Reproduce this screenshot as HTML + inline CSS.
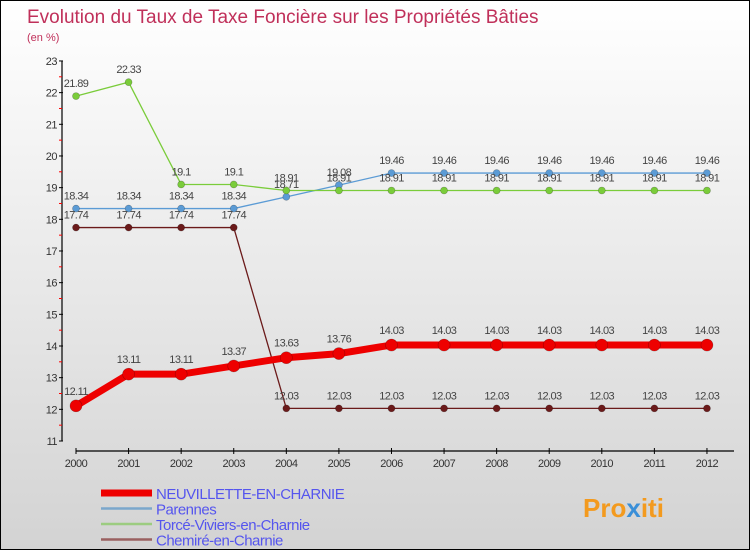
<!DOCTYPE html>
<html><head><meta charset="utf-8"><style>
body{margin:0}
#c{width:750px;height:550px;position:relative;overflow:hidden;box-sizing:border-box;border:1px solid #000;background:linear-gradient(#ffffff,#d3d3d3);font-family:"Liberation Sans",sans-serif}
text{font-family:"Liberation Sans",sans-serif}
</style></head><body>
<div id="c">
<svg id="s" width="750" height="550">
<text x="26" y="22" font-size="19" fill="#c0305a">Evolution du Taux de Taxe Foncière sur les Propriétés Bâties</text>
<text x="26" y="40" font-size="11" fill="#c0305a">(en %)</text>
<g id="axes"></g><g id="series"></g><g id="legend"></g>
<text x="582" y="516" font-size="26" font-weight="bold" fill="#f39a1e">Pro<tspan fill="#3a8fd8">x</tspan>iti</text>
</svg>
</div>
<script>
const years=[2000,2001,2002,2003,2004,2005,2006,2007,2008,2009,2010,2011,2012];
const neuv=[12.11,13.11,13.11,13.37,13.63,13.76,14.03,14.03,14.03,14.03,14.03,14.03,14.03];
const neuvLbl=["12.11","13.11","13.11","13.37","13.63","13.76","14.03","14.03","14.03","14.03","14.03","14.03","14.03"];
const paren=[18.34,18.34,18.34,18.34,18.71,19.08,19.46,19.46,19.46,19.46,19.46,19.46,19.46];
const torce=[21.89,22.33,19.1,19.1,18.91,18.91,18.91,18.91,18.91,18.91,18.91,18.91,18.91];
const chem=[17.74,17.74,17.74,17.74,12.03,12.03,12.03,12.03,12.03,12.03,12.03,12.03,12.03];
const yTicks=[11,12,13,14,15,16,17,18,19,20,21,22,23];
const NS="http://www.w3.org/2000/svg";
const X=i=>75+i*52.58;
const Y=v=>440-(v-11)*31.67;
function mk(tag,at,parent){const e=document.createElementNS(NS,tag);for(const k in at)e.setAttribute(k,at[k]);parent.appendChild(e);return e;}
const ax=document.getElementById('axes'),sg=document.getElementById('series'),lg=document.getElementById('legend');
let a=mk('line',{x1:61,y1:60,x2:61,y2:440,stroke:'#000','stroke-width':1.2},ax);


yTicks.forEach(v=>{
 const t=mk('line',{x1:58,x2:62,y1:Y(v),y2:Y(v),stroke:'#000'},ax);
 
 
 if(v<23){const m=mk('line',{x1:58,x2:61,y1:Y(v+0.5),y2:Y(v+0.5),stroke:'#f00'},ax);
 
 }
 const l=mk('text',{x:56,y:Y(v)+4,'font-size':11,fill:'#333','text-anchor':'end','letter-spacing':'-0.5'},ax);
 l.textContent=v;
 
 
});
a=mk('line',{x1:75,y1:450,x2:733,y2:450,stroke:'#000','stroke-width':1.2},ax);


years.forEach((y,i)=>{
 const t=mk('line',{x1:X(i),x2:X(i),y1:447,y2:453,stroke:'#000'},ax);
 
 
 const l=mk('text',{x:X(i),y:466,'font-size':11,fill:'#333','text-anchor':'middle','letter-spacing':'-0.5'},ax);
 l.textContent=y;
 
 
});
function series(vals,lbls,color,w,r,name,dy){
 const p=mk('polyline',{points:vals.map((v,i)=>X(i)+','+Y(v)).join(' '),fill:'none',stroke:color,'stroke-width':w},sg);
 
 
 vals.forEach((v,i)=>{
  const c=mk('circle',{cx:X(i),cy:Y(v),r:r,fill:color,stroke:'rgba(0,0,0,0.3)','stroke-width':0.6},sg);
  
  
  const l=mk('text',{x:X(i),y:Y(v)-dy,'font-size':11,fill:'#444','text-anchor':'middle','letter-spacing':'-0.6'},sg);
  l.textContent=lbls?lbls[i]:String(v);
  
  
 });
}
series(paren,null,'#5b9bd5',1.3,3.5,'parennes',9);
series(torce,null,'#7acc3a',1.3,3.5,'torce',9);
series(chem,null,'#6b1a1a',1.3,3.5,'chemire',9);
series(neuv,neuvLbl,'#ee0000',7,6,'neuvillette',11);
const leg=[['NEUVILLETTE-EN-CHARNIE','#ee0000',7],['Parennes','#7ba7cc',2.5],['Torcé-Viviers-en-Charnie','#9ccc80',2.5],['Chemiré-en-Charnie','#9a6060',2.5]];
leg.forEach((e,i)=>{
 const yy=492+i*15.5;
 const l=mk('line',{x1:100,x2:151,y1:yy,y2:yy,stroke:e[1],'stroke-width':e[2]},lg);
 
 
 const t=mk('text',{x:155,y:yy+6,'font-size':15,fill:'#5555ee','letter-spacing':'-0.5'},lg);
 t.textContent=e[0];
 
 
});
</script>
</body></html>
